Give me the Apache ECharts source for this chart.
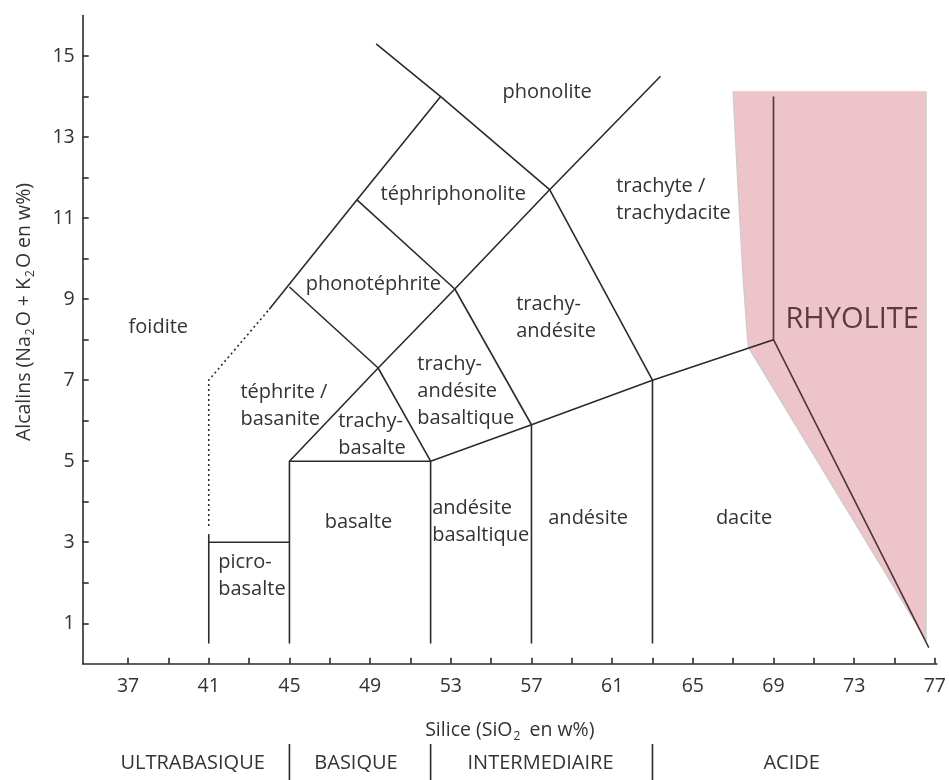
<!DOCTYPE html>
<html>
<head>
<meta charset="utf-8">
<script src="https://cdn.jsdelivr.net/npm/echarts@6/dist/echarts.min.js"></script>
<style>
  html, body { margin: 0; padding: 0; background: #fff; }
  #chart { width: 949px; height: 780px; }
</style>
</head>
<body>
<div id="chart"></div>
<script>
// axis ticks / labels
const xTicks = [37, 39, 41, 43, 45, 47, 49, 51, 53, 55, 57, 59, 61, 63, 65, 67, 69, 71, 73, 75, 77];
const xLabels = [37, 41, 45, 49, 53, 57, 61, 65, 69, 73, 77];
const yTicks = [1, 2, 3, 4, 5, 6, 7, 8, 9, 10, 11, 12, 13, 14, 15];
const yLabels = [1, 3, 5, 7, 9, 11, 13, 15];

// field boundaries [SiO2, Na2O+K2O]
const boundaries = [
  [[41, 3.2], [41, 0.5]],
  [[41, 3], [45, 3]],
  [[45, 0.5], [45, 5], [52, 5]],
  [[52, 0.5], [52, 5], [57, 5.9], [63, 7], [69, 8]],
  [[57, 0.5], [57, 5.9]],
  [[63, 0.5], [63, 7]],
  [[45, 5], [49.4, 7.3], [53.2, 9.25], [57.9, 11.7], [63.4, 14.5]],
  [[49.4, 7.3], [52, 5]],
  [[45, 9.3], [49.4, 7.3]],
  [[44, 8.75], [48.35, 11.45], [52.5, 14]],
  [[48.35, 11.45], [53.2, 9.25]],
  [[49.3, 15.3], [52.5, 14], [57.9, 11.7]],
  [[53.2, 9.25], [57, 5.9]],
  [[57.9, 11.7], [63, 7]]
];
const rhyoliteLines = [
  [[69, 14], [69, 8], [76.7, 0.4]]
];
const dottedLine = [[41, 3.4], [41, 7], [44, 8.75]];
const rhyoliteField = [[67.0, 14.13], [76.56, 14.13], [76.56, 0.59], [67.75, 7.82], [67.5, 9.5], [67.24, 11.8]];

// field names and anchor points
const fieldNames = ['foidite', 'picro-\nbasalte', 'basalte', 'téphrite /\nbasanite', 'trachy-\nbasalte',
  'phonotéphrite', 'téphriphonolite', 'phonolite', 'andésite\nbasaltique', 'trachy-\nandésite\nbasaltique',
  'andésite', 'trachy-\nandésite', 'dacite', 'trachyte /\ntrachydacite'];
const fieldX = [38.5, 41.47, 48.42, 42.57, 47.42, 49.16, 53.12, 57.78, 52.08, 51.34, 59.81, 56.24, 67.54, 61.2];
const fieldY = [8.3, 2.16, 3.5, 6.36, 5.65, 9.37, 11.59, 14.1, 3.5, 6.72, 3.6, 8.53, 3.6, 11.45];

// silica groups under the axis
const groupNames = ['ULTRABASIQUE', 'BASIQUE', 'INTERMEDIAIRE', 'ACIDE'];
const groupX = [40.2, 48.3, 57.45, 69.9];
const groupLimits = [45, 52, 63];

const FONT = '"Open Sans", "Noto Sans", sans-serif';
const INK = '#333333';
const LINE = '#2b2b2b';

const chart = echarts.init(document.getElementById('chart'));

const lineSeries = (pts, color, type) => ({
  type: 'line',
  data: pts,
  symbol: 'none',
  silent: true,
  clip: false,
  z: 3,
  lineStyle: { color: color, width: 1.6, type: type || 'solid' }
});

const series = [];

series.push({
  type: 'custom',
  z: 1,
  silent: true,
  data: [0],
  renderItem: (params, api) => {
    const pts = rhyoliteField.map(p => api.coord(p));
    const edge = pts.slice(1).concat([pts[0]]);
    return {
      type: 'group',
      children: [
        { type: 'polygon', shape: { points: pts }, style: { fill: '#ecc4ca' } },
        { type: 'polyline', shape: { points: edge }, style: { stroke: '#cdcdcd', lineWidth: 1.5, fill: null } }
      ]
    };
  }
});

boundaries.forEach(b => series.push(lineSeries(b, LINE)));
rhyoliteLines.forEach(b => series.push(lineSeries(b, '#4e3438')));
series.push(lineSeries(dottedLine, LINE, [2, 3]));

series.push({
  type: 'custom',
  z: 4,
  silent: true,
  data: fieldNames.map((n, i) => [fieldX[i], fieldY[i]]),
  renderItem: (params, api) => {
    const i = params.dataIndex;
    const p = api.coord([api.value(0), api.value(1)]);
    const name = fieldNames[i];
    return {
      type: 'text',
      x: p[0],
      y: p[1],
      style: {
        text: name,
        align: name.indexOf('\n') >= 0 ? 'left' : 'center',
        verticalAlign: 'middle',
        fill: INK,
        fontSize: 20,
        fontFamily: FONT,
        lineHeight: 27
      }
    };
  }
});

// RHYOLITE
series.push({
  type: 'custom',
  z: 4,
  silent: true,
  data: [[72.9, 8.48]],
  renderItem: (params, api) => {
    const p = api.coord([api.value(0), api.value(1)]);
    return {
      type: 'text', x: p[0], y: p[1],
      style: { text: 'RHYOLITE', align: 'center', verticalAlign: 'middle', fill: '#5b3b40', fontSize: 29, fontFamily: FONT }
    };
  }
});

// group names and separators below the axis
series.push({
  type: 'custom',
  z: 4,
  silent: true,
  clip: false,
  data: [0],
  renderItem: (params, api) => {
    const children = [];
    groupNames.forEach((g, i) => {
      const p = api.coord([groupX[i], -2.45]);
      children.push({
        type: 'text', x: p[0], y: p[1],
        style: { text: g, align: 'center', verticalAlign: 'middle', fill: INK, fontSize: 20, fontFamily: FONT }
      });
    });
    groupLimits.forEach(v => {
      const a = api.coord([v, -1.98]);
      const b = api.coord([v, -2.9]);
      children.push({
        type: 'line',
        shape: { x1: a[0], y1: a[1], x2: b[0], y2: b[1] },
        style: { stroke: LINE, lineWidth: 1.6 }
      });
    });
    return { type: 'group', children: children };
  }
});

chart.setOption({
  animation: false,
  backgroundColor: '#fff',
  grid: { left: 82.7, right: 12, top: 15.5, bottom: 116.2 },
  xAxis: {
    type: 'value',
    min: 34.75,
    max: 77.1,
    name: '{n|Silice (SiO}{s|2}{n| en w%)}',
    nameLocation: 'middle',
    nameGap: 54,
    nameTextStyle: {
      rich: {
        n: { fontSize: 19.5, fontFamily: FONT, color: INK },
        s: { fontSize: 12, fontFamily: FONT, color: INK, padding: [13, 4, 0, 1] }
      }
    },
    axisLine: { show: true, onZero: false, lineStyle: { color: LINE, width: 1.6 } },
    axisTick: { show: true, inside: true, length: 6, customValues: xTicks, lineStyle: { color: LINE, width: 1.6 } },
    axisLabel: { customValues: xLabels, fontSize: 19.5, fontFamily: FONT, color: INK, margin: 13 },
    splitLine: { show: false }
  },
  yAxis: {
    type: 'value',
    min: 0,
    max: 16,
    axisLine: { show: true, onZero: false, lineStyle: { color: LINE, width: 1.6 } },
    axisTick: { show: true, inside: true, length: 6, customValues: yTicks, lineStyle: { color: LINE, width: 1.6 } },
    axisLabel: { customValues: yLabels, fontSize: 19.5, fontFamily: FONT, color: INK, margin: 8 },
    splitLine: { show: false }
  },
  graphic: [{
    type: 'text',
    x: 24,
    y: 312,
    rotation: Math.PI / 2,
    style: {
      text: '{n|Alcalins (Na}{s|2}{n|O + K}{s|2}{n|O en w%)}',
      align: 'center',
      verticalAlign: 'middle',
      rich: {
        n: { fontSize: 19.5, fontFamily: FONT, fill: INK },
        s: { fontSize: 12, fontFamily: FONT, fill: INK, padding: [13, 2, 0, 1] }
      }
    }
  }],
  series: series
});
</script>
</body>
</html>
